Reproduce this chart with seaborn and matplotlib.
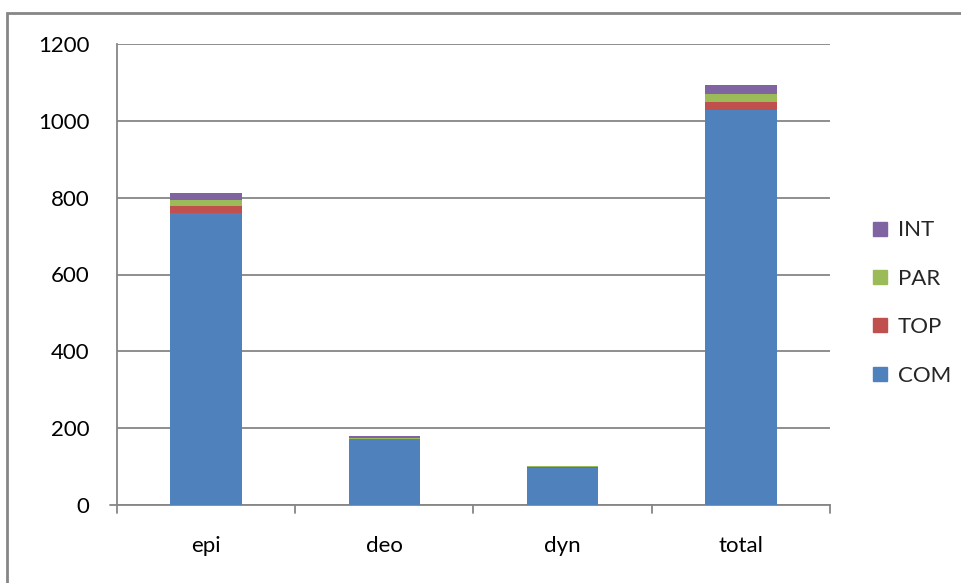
import matplotlib
matplotlib.use("Agg")
import matplotlib.pyplot as plt
from matplotlib.patches import Rectangle
from matplotlib.lines import Line2D
import numpy as np
import pandas as pd
import seaborn as sns

categories = ["epi", "deo", "dyn", "total"]
series = ["COM", "TOP", "PAR", "INT"]
com = [760, 172, 96, 1028]
top = [19, 1, 2, 22]
par = [16, 1, 3, 19]
int_ = [17, 5, 1, 23]
colors = {"COM": "#4F81BD", "TOP": "#C0504D", "PAR": "#9BBB59", "INT": "#8064A2"}
yticks = [0, 200, 400, 600, 800, 1000, 1200]

sns.set_theme(style="white")
plt.rcParams["font.family"] = ["Lato", "DejaVu Sans"]

W, H = 962, 583
fig = plt.figure(figsize=(W / 100, H / 100), dpi=100)
ax = fig.add_axes([117 / W, 1 - 505 / H, (830 - 117) / W, (505 - 44) / H])

df = pd.DataFrame({"cat": categories, "COM": com, "TOP": top, "PAR": par, "INT": int_})
cum = df[series].cumsum(axis=1)

# stacked bars: draw cumulative heights from the tallest layer down
for s in reversed(series):
    sns.barplot(x=df["cat"], y=cum[s], color=colors[s], width=0.4,
                saturation=1, ax=ax, zorder=3, edgecolor="none")

grid_c = "#868686"
fs = 16
ax.set_ylim(0, 1200)
ax.set_xlim(-0.5, 3.5)
ax.set_yticks(yticks)
ax.set_yticklabels([str(v) for v in yticks], fontsize=fs, color="black")
ax.yaxis.grid(True, color=grid_c, linewidth=1.3, zorder=0)
ax.set_axisbelow(True)
ax.set_xlabel("")
ax.set_ylabel("")
ax.set_xticks(range(len(categories)))
ax.set_xticklabels(categories, fontsize=fs, color="black")
ax.tick_params(axis="x", length=0, pad=22)
ax.tick_params(axis="y", length=0, pad=20)
for side in ["top", "right"]:
    ax.spines[side].set_visible(False)
ax.spines["left"].set_color(grid_c)
ax.spines["left"].set_linewidth(1.3)
ax.spines["bottom"].set_color(grid_c)
ax.spines["bottom"].set_linewidth(1.3)

# category boundary tick marks below the axis
for xb in np.arange(-0.5, 4.0, 1.0):
    ax.plot([xb, xb], [0, -20], color=grid_c, linewidth=1.3, clip_on=False, zorder=4)
ax.plot([-0.5 - 0.04, -0.5], [0, 0], color=grid_c, linewidth=1.3, clip_on=False)

# legend, reversed order
handles = [Line2D([0], [0], marker="s", linestyle="none", markersize=10,
                  markerfacecolor=colors[s], markeredgecolor=colors[s]) for s in reversed(series)]
fig.legend(handles, list(reversed(series)), loc="center left",
           bbox_to_anchor=(869 / W, 1 - 303 / H), frameon=False, fontsize=fs,
           labelspacing=1.28, handletextpad=0.3, handlelength=1.0, borderpad=0,
           borderaxespad=0)

# chart area border
fig.add_artist(Rectangle((7 / W, -0.1), 1.2, 1 - 13 / H + 0.1, transform=fig.transFigure,
                         fill=False, edgecolor=grid_c, linewidth=2))

fig.savefig("out.png", dpi=100)
